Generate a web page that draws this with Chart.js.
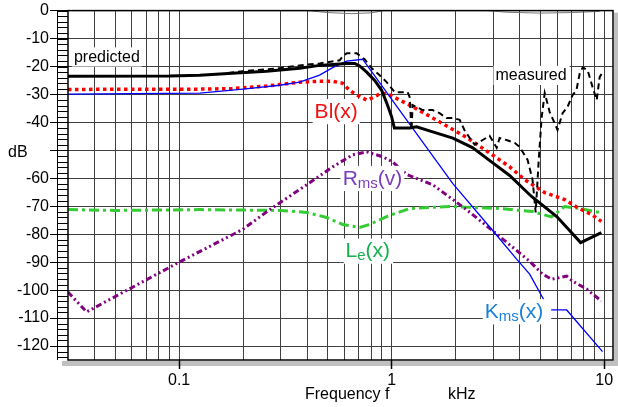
<!DOCTYPE html>
<html>
<head>
<meta charset="utf-8">
<title>Predicted and measured distortion</title>
<script src="https://cdn.jsdelivr.net/npm/chart.js@4.4.1/dist/chart.umd.min.js"></script>
<style>
  html, body { margin: 0; padding: 0; background: #fff; }
  #wrap { width: 618px; height: 407px; }
</style>
</head>
<body>
<div id="wrap"><canvas id="chart" width="618" height="407"></canvas></div>
<script>
// frequency in kHz, level in dB
const predictedF = [0.03, 0.09, 0.125, 0.178, 0.258, 0.369, 0.458, 0.614, 0.67, 0.707, 0.763, 0.832, 0.897, 0.947, 1.0, 1.03, 1.215, 1.31, 1.56, 1.94, 2.4, 2.98, 3.59, 4.55, 5.98, 7.75, 9.7];
const predictedDb = [-23.5, -23.4, -23.1, -22.4, -21.7, -20.6, -19.6, -18.9, -18.9, -19.8, -22, -25, -28.5, -33, -38, -42, -42, -41.6, -43.4, -45.6, -49, -54.4, -59, -66.5, -73.7, -83, -79.4];

const measuredF = [0.17, 0.199, 0.258, 0.297, 0.369, 0.458, 0.569, 0.588, 0.614, 0.685, 0.746, 0.805, 0.878, 0.947, 1.033, 1.19, 1.215, 1.24, 1.255, 1.4, 1.56, 1.68, 1.81, 1.94, 2.09, 2.2, 2.33, 2.46, 2.68, 2.89, 3.12, 3.22, 3.47, 3.79, 4.0, 4.36, 4.6, 4.76, 4.92, 5.08, 5.25, 5.54, 5.84, 6.03, 6.37, 6.72, 7.1, 7.4, 7.67, 7.93, 8.36, 8.82, 9.22, 9.52, 9.82];
const measuredDb = [-22.3, -21.7, -21, -20.6, -19.6, -18.9, -17.8, -16.4, -15.3, -15.3, -17.4, -20.6, -23.1, -25.6, -29.2, -29.2, -31, -42.7, -33.8, -35.6, -35.6, -36.7, -38.4, -38.4, -39.1, -42.7, -45.6, -48, -46.3, -44.8, -49.1, -45.6, -46.3, -47.3, -48.8, -53.4, -60.5, -72.2, -53.4, -38.1, -29.5, -36.3, -40.2, -42.7, -36.7, -34.5, -30.2, -28.5, -22.4, -20.3, -21.4, -27.4, -32, -23.8, -22.1];

const kmsF = [0.03, 0.125, 0.2, 0.297, 0.369, 0.458, 0.53, 0.614, 0.73, 1.215, 1.94, 2.96, 3.88, 4.46, 5.08, 5.54, 6.66, 9.82];
const kmsDb = [-29.9, -29.5, -28.1, -26.7, -25.6, -23.1, -20.3, -18.1, -17.4, -40.6, -61.9, -78.3, -89, -94.3, -102.1, -107.1, -107.1, -122];

const blF = [0.03, 0.125, 0.178, 0.258, 0.369, 0.458, 0.53, 0.588, 0.634, 0.685, 0.763, 0.805, 0.897, 0.978, 1.09, 1.215, 1.56, 2.27, 3.22, 3.59, 4.23, 5.25, 6.52, 7.5, 8.73, 9.7];
const blDb = [-28.2, -28.1, -27.9, -27, -25.6, -25.3, -25.3, -26, -28.5, -30.2, -32, -31.3, -29.5, -30.2, -32, -33.8, -38.4, -45.5, -53.4, -55.9, -60.5, -65.1, -67.6, -70.5, -73, -75.4];

const rmsF = [0.03, 0.0367, 0.1, 0.199, 0.267, 0.411, 0.528, 0.655, 0.763, 0.907, 1.01, 1.18, 1.56, 2.25, 3.22, 4.46, 5.13, 5.66, 6.66, 7.1, 8.26, 9.7];
const rmsDb = [-100.7, -107.8, -90, -78.3, -71.2, -61.6, -55.9, -51.6, -50.5, -52.3, -54.1, -58.7, -62.3, -71.2, -80.8, -89.7, -94.3, -96.1, -95, -96.8, -99.6, -103.9];

const leF = [0.03, 0.05, 0.125, 0.297, 0.398, 0.494, 0.588, 0.707, 0.788, 0.947, 1.215, 1.875, 3.22, 4.6, 5.66, 6.52, 7.67, 9.52];
const leDb = [-71.2, -71.5, -71.2, -71.5, -72.2, -74, -76.5, -77.6, -76.5, -73.7, -70.8, -70.1, -70.8, -71.9, -73.8, -70.1, -70.8, -72.2];

// faint trace hugging the 0 dB border
const topF = [0.03, 0.4, 0.5, 0.65, 0.8, 0.92, 2.8, 3.5, 5, 7, 9.5];
const topDb = [0, 0, -0.7, -1.1, -0.8, 0, 0, -0.6, -0.9, -0.7, -0.3];

const xGrid = [0.04, 0.05, 0.06, 0.07, 0.08, 0.09, 0.1, 0.2, 0.3, 0.4, 0.5, 0.6, 0.7, 0.8, 0.9, 1, 2, 3, 4, 5, 6, 7, 8, 9, 10];
const xLabels = [0.1, 1, 10];
const yLabels = [0, -10, -20, -30, -40, -50, -60, -70, -80, -90, -100, -110, -120];

const FONT = '"Liberation Sans", Arial, sans-serif';

function pts(f, db) {
  return f.map((v, i) => ({ x: v, y: db[i] }));
}

// text labels inside the plot, anchored in data units (left / baseline)
const notes = [
  { f: 0.032, db: -18.3, pad: 2, color: '#000', parts: [['predicted', 16, 0]] },
  { f: 3.08, db: -24.9, pad: 3, color: '#000', parts: [['measured', 16, 0]] },
  { f: 0.434, db: -38.4, pad: 2, color: '#f01010', parts: [['Bl(x)', 21, 0]] },
  { f: 0.588, db: -62.3, pad: 2, color: '#7a3db8', parts: [['R', 21, 0], ['ms', 15, 3], ['(v)', 21, 0]] },
  { f: 0.607, db: -88.3, pad: 3, color: '#16b04e', parts: [['L', 21, 0], ['e', 15, 3], ['(x)', 21, 0]] },
  { f: 2.74, db: -110, pad: 8, color: '#1a80d8', parts: [['K', 21, 0], ['ms', 15, 3], ['(x)', 21, 0]] }
];

const decor = {
  id: 'decor',
  beforeDraw(chart) {
    const { ctx, chartArea: a } = chart;
    ctx.save();
    ctx.fillStyle = '#fff';
    ctx.fillRect(0, 0, chart.width, chart.height);
    // shadow under the plot box
    ctx.fillStyle = '#c0c0c0';
    ctx.fillRect(a.left - 6, a.bottom + 1, a.right - a.left + 10, 5);
    ctx.fillRect(a.right + 1, a.top + 2, 4, a.bottom - a.top + 4);
    ctx.restore();
  },
  afterDatasetsDraw(chart) {
    const { ctx, chartArea: a, scales } = chart;
    const xs = scales.x, ys = scales.y;
    ctx.save();

    notes.forEach(n => {
      const x = xs.getPixelForValue(n.f);
      const y = ys.getPixelForValue(n.db);
      let w = 0;
      n.parts.forEach(p => { ctx.font = p[1] + 'px ' + FONT; w += ctx.measureText(p[0]).width; });
      const big = Math.max(...n.parts.map(p => p[1]));
      ctx.fillStyle = '#fff';
      ctx.fillRect(x - 2, y - big * 0.9, w + 2 + n.pad, big * 1.2);
      ctx.fillStyle = n.color;
      ctx.textBaseline = 'alphabetic';
      let cx = x;
      n.parts.forEach(p => {
        ctx.font = p[1] + 'px ' + FONT;
        ctx.fillText(p[0], cx, y + p[2]);
        cx += ctx.measureText(p[0]).width;
      });
    });

    // plot frame
    ctx.strokeStyle = '#000';
    ctx.lineWidth = 1.5;
    ctx.strokeRect(a.left, a.top, a.right - a.left, a.bottom - a.top);

    // ruler with minor ticks left of the plot
    ctx.lineWidth = 1;
    ctx.beginPath();
    ctx.moveTo(a.left - 10.5, a.top);
    ctx.lineTo(a.left - 10.5, a.bottom);
    for (let v = 0; v >= ys.min; v -= 2) {
      const y = Math.round(ys.getPixelForValue(v)) + 0.5;
      ctx.moveTo(a.left - 10.5, y);
      ctx.lineTo(a.left, y);
    }
    ctx.stroke();

    ctx.fillStyle = '#000';
    ctx.font = '16px ' + FONT;
    ctx.textBaseline = 'middle';
    ctx.textAlign = 'left';
    ctx.fillText('dB', 8, ys.getPixelForValue(-50) + 2);
    ctx.textBaseline = 'alphabetic';
    ctx.fillText('Frequency f', 305, 399);
    ctx.fillText('kHz', 448, 399);
    ctx.restore();
  }
};

const base = { fill: false, pointRadius: 0, tension: 0, borderCapStyle: 'butt' };

new Chart(document.getElementById('chart'), {
  type: 'line',
  data: {
    datasets: [
      { ...base, label: 'predicted', data: pts(predictedF, predictedDb), borderColor: '#000', borderWidth: 3 },
      { ...base, label: 'measured', data: pts(measuredF, measuredDb), borderColor: '#000', borderWidth: 2, borderDash: [6, 4] },
      { ...base, label: 'Kms(x)', data: pts(kmsF, kmsDb), borderColor: '#0000ff', borderWidth: 1.3 },
      { ...base, label: 'Bl(x)', data: pts(blF, blDb), borderColor: '#ff0000', borderWidth: 3.5, borderDash: [3.5, 3.5] },
      { ...base, label: 'Rms(v)', data: pts(rmsF, rmsDb), borderColor: '#800080', borderWidth: 3, borderDash: [6, 3, 2, 3, 2, 3] },
      { ...base, label: 'Le(x)', data: pts(leF, leDb), borderColor: '#33cc33', borderWidth: 3, borderDash: [10, 4, 3, 4] },
      { ...base, label: 'top', data: pts(topF, topDb), borderColor: '#777', borderWidth: 1 }
    ]
  },
  options: {
    responsive: false,
    animation: false,
    events: [],
    layout: { padding: { top: 10, right: 5, left: 0, bottom: 0 } },
    plugins: { legend: { display: false }, tooltip: { enabled: false } },
    scales: {
      x: {
        type: 'logarithmic',
        min: 0.03,
        max: 11,
        afterBuildTicks: s => { s.ticks = xGrid.map(v => ({ value: v })); },
        afterFit: s => { s.height = 47; },
        border: { display: false },
        grid: {
          color: '#404040',
          lineWidth: 1,
          tickLength: 9,
          tickWidth: 1.5,
          tickColor: c => (c.tick && xLabels.includes(c.tick.value)) ? '#000' : 'rgba(0,0,0,0)'
        },
        ticks: {
          autoSkip: false,
          maxRotation: 0,
          padding: 2,
          color: '#000',
          font: { family: FONT, size: 16 },
          callback: v => xLabels.includes(v) ? String(v) : ''
        }
      },
      y: {
        min: -125,
        max: 0,
        afterBuildTicks: s => { s.ticks = yLabels.map(v => ({ value: v })); },
        afterFit: s => { s.width = 68; },
        border: { display: false },
        grid: {
          color: c => (c.tick && c.tick.value === 0) ? 'rgba(0,0,0,0)' : '#404040',
          lineWidth: 1,
          tickLength: 18,
          tickColor: '#000'
        },
        ticks: {
          padding: 1,
          color: '#000',
          font: { family: FONT, size: 16 },
          callback: v => v === -50 ? '' : String(v)
        }
      }
    }
  },
  plugins: [decor]
});
</script>
</body>
</html>
